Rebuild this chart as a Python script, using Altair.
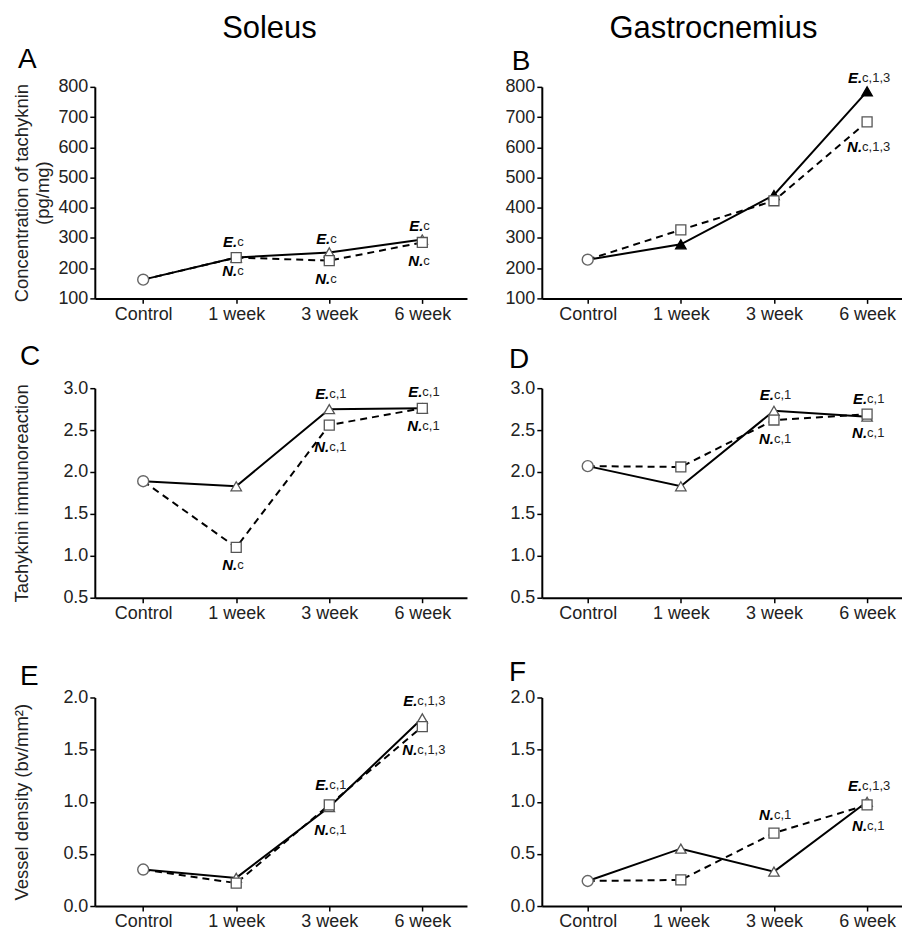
import altair as alt
import pandas as pd

FONT = "Liberation Sans"

categories = ["Control", "1 week", "3 week", "6 week"]
weeks = categories[1:]

# Panel A - Soleus, concentration of tachykinin (pg/mg)
a_control = 162
a_E = [235, 252, 295]
a_N = [235, 225, 285]
# Panel B - Gastrocnemius, concentration of tachykinin (pg/mg)
b_control = 228
b_E = [279, 442, 785]
b_N = [327, 423, 684]
# Panel C - Soleus, tachykinin immunoreaction
c_control = 1.89
c_E = [1.83, 2.75, 2.76]
c_N = [1.10, 2.56, 2.76]
# Panel D - Gastrocnemius, tachykinin immunoreaction
d_control = 2.07
d_E = [1.83, 2.73, 2.66]
d_N = [2.06, 2.62, 2.69]
# Panel E - Soleus, vessel density (bv/mm2)
e_control = 0.35
e_E = [0.27, 0.95, 1.80]
e_N = [0.22, 0.97, 1.72]
# Panel F - Gastrocnemius, vessel density (bv/mm2)
f_control = 0.24
f_E = [0.55, 0.33, 1.00]
f_N = [0.25, 0.70, 0.97]

# significance notes: (category, series, suffix, y value)
a_notes = [("1 week", "E", "c", 286), ("1 week", "N", "c", 192),
           ("3 week", "E", "c", 297), ("3 week", "N", "c", 165),
           ("6 week", "E", "c", 338), ("6 week", "N", "c", 225)]
b_notes = [("6 week", "E", "c,1,3", 829), ("6 week", "N", "c,1,3", 602)]
c_notes = [("1 week", "N", "c", 0.89), ("3 week", "E", "c,1", 2.93),
           ("3 week", "N", "c,1", 2.30), ("6 week", "E", "c,1", 2.96),
           ("6 week", "N", "c,1", 2.55)]
d_notes = [("3 week", "E", "c,1", 2.92), ("3 week", "N", "c,1", 2.39),
           ("6 week", "E", "c,1", 2.87), ("6 week", "N", "c,1", 2.47)]
e_notes = [("3 week", "E", "c,1", 1.16), ("3 week", "N", "c,1", 0.73),
           ("6 week", "E", "c,1,3", 1.97), ("6 week", "N", "c,1,3", 1.50)]
f_notes = [("3 week", "N", "c,1", 0.87), ("6 week", "E", "c,1,3", 1.15),
           ("6 week", "N", "c,1", 0.77)]

tk_ticks = [100, 200, 300, 400, 500, 600, 700, 800]
imm_ticks = [0.5, 1.0, 1.5, 2.0, 2.5, 3.0]
vd_ticks = [0.0, 0.5, 1.0, 1.5, 2.0]

SPLIT_DX = {"c": 1, "c,1": 0, "c,1,3": -5}


def panel(letter, letter_xy, control, E, N, notes, yticks, yfmt,
          ytitle=None, title_x=-73, left=True, heading=None, filled=False,
          height=211, top_gap=0):
    W = 373 if left else 361
    rows = []
    for s, vals in (("E", E), ("N", N)):
        rows.append({"cat": "Control", "series": s, "v": control, "order": 0})
        for i, (c, v) in enumerate(zip(weeks, vals)):
            rows.append({"cat": c, "series": s, "v": v, "order": i + 1})
    df = pd.DataFrame(rows)
    notes_df = pd.DataFrame(notes, columns=["cat", "series", "suffix", "v"])
    notes_df["lead"] = notes_df["series"] + "."

    xscale = alt.Scale(type="point", domain=categories,
                       padding=0.5 if left else 0.434,
                       align=0.52 if left else 0.568)
    x = alt.X("cat:N", scale=xscale,
              axis=alt.Axis(title=None, labelAngle=0))
    yaxis_kw = dict(values=yticks, format=yfmt)
    if ytitle is not None:
        yaxis_kw.update(title=ytitle, titleX=title_x, titleBaseline="middle")
    else:
        yaxis_kw.update(title=None)
    y = alt.Y("v:Q", scale=alt.Scale(domain=[yticks[0], yticks[-1]],
                                     range=[height, top_gap],
                                     nice=False, zero=False),
              axis=alt.Axis(**yaxis_kw))

    base = alt.Chart(df).encode(x=x, y=y, order="order:Q")
    n_line = base.transform_filter(alt.datum.series == "N").mark_line(
        color="black", strokeWidth=2, strokeDash=[7, 5])
    e_line = base.transform_filter(alt.datum.series == "E").mark_line(
        color="black", strokeWidth=2)
    tri = base.transform_filter(
        (alt.datum.series == "E") & (alt.datum.cat != "Control")
    ).mark_point(shape="triangle-up", size=110, filled=True,
                 fill="black" if filled else "white",
                 stroke="black" if filled else "#555", strokeWidth=1.3,
                 opacity=1)
    sq = base.transform_filter(
        (alt.datum.series == "N") & (alt.datum.cat != "Control")
    ).mark_point(shape="square", size=100, filled=True, fill="white",
                 stroke="#555", strokeWidth=1.3, opacity=1)
    circ = base.transform_filter(
        (alt.datum.series == "E") & (alt.datum.cat == "Control")
    ).mark_point(shape="circle", size=120, filled=True, fill="white",
                 stroke="#666", strokeWidth=1.4, opacity=1)

    layers = [n_line, e_line, tri, sq, circ]
    nbase = alt.Chart(notes_df).encode(x=x, y=y)
    for suf in sorted(set(notes_df["suffix"])):
        d = SPLIT_DX[suf]
        sub = nbase.transform_filter(alt.datum.suffix == suf)
        layers.append(sub.mark_text(align="right", baseline="middle", dx=d,
                                    font=FONT, fontSize=15, fontWeight="bold",
                                    fontStyle="italic", color="black"
                                    ).encode(text="lead:N"))
        layers.append(sub.mark_text(align="left", baseline="middle", dx=d,
                                    font=FONT, fontSize=13, color="#222"
                                    ).encode(text="suffix:N"))

    lab = pd.DataFrame({"t": [letter]})
    layers.append(alt.Chart(lab).mark_text(
        align="left", baseline="alphabetic", font=FONT, fontSize=28,
        color="black").encode(x=alt.value(letter_xy[0]),
                              y=alt.value(top_gap + letter_xy[1]),
                              text="t:N"))
    if heading is not None:
        hd = pd.DataFrame({"t": [heading[0]]})
        layers.append(alt.Chart(hd).mark_text(
            align="center", baseline="alphabetic", font=FONT, fontSize=31,
            color="black").encode(x=alt.value(heading[1]),
                                  y=alt.value(top_gap - 49), text="t:N"))
    return alt.layer(*layers).properties(width=W, height=height)


# row geometry: row 1 plot 212 tall; row 2 plot 210 tall, 90 px below;
# row 3 plot 209 tall, 100 px below (grid spacing 85 + inner top gaps)
pA = panel("A", (-77, -19), a_control, a_E, a_N, a_notes, tk_ticks, "d",
           ytitle=["Concentration of tachyknin", "(pg/mg)"], title_x=-73,
           left=True, heading=("Soleus", 175), height=212, top_gap=0)
pB = panel("B", (-30, -17), b_control, b_E, b_N, b_notes, tk_ticks, "d",
           left=False, heading=("Gastrocnemius", 172), filled=True,
           height=212, top_gap=0)
pC = panel("C", (-75, -23), c_control, c_E, c_N, c_notes, imm_ticks, ".1f",
           ytitle="Tachyknin immunoreaction", title_x=-73, left=True,
           height=215, top_gap=5)
pD = panel("D", (-33, -20), d_control, d_E, d_N, d_notes, imm_ticks, ".1f",
           left=False, height=215, top_gap=5)
pE = panel("E", (-75, -13), e_control, e_E, e_N, e_notes, vd_ticks, ".1f",
           ytitle="Vessel density (bv/mm²)", title_x=-73, left=True,
           height=224, top_gap=15)
pF = panel("F", (-33, -17), f_control, f_E, f_N, f_notes, vd_ticks, ".1f",
           left=False, height=224, top_gap=15)

chart = alt.concat(
    pA, pB, pC, pD, pE, pF, columns=2,
    spacing={"row": 85, "column": 75}, bounds="flush", align="each"
).properties(
    padding={"left": 4, "top": 4, "right": 0, "bottom": 0}
).configure_view(stroke=None).configure_axis(
    grid=False, domainColor="black", domainWidth=2, tickColor="black",
    tickWidth=1.5, tickSize=5, labelFont=FONT, labelFontSize=18,
    labelColor="#222", labelPadding=2, titleFont=FONT, titleFontSize=18.5,
    titleFontWeight="normal", titleColor="#222", titleLineHeight=21
)

chart.save("out.html", embed_options={"renderer": "svg", "actions": False})
